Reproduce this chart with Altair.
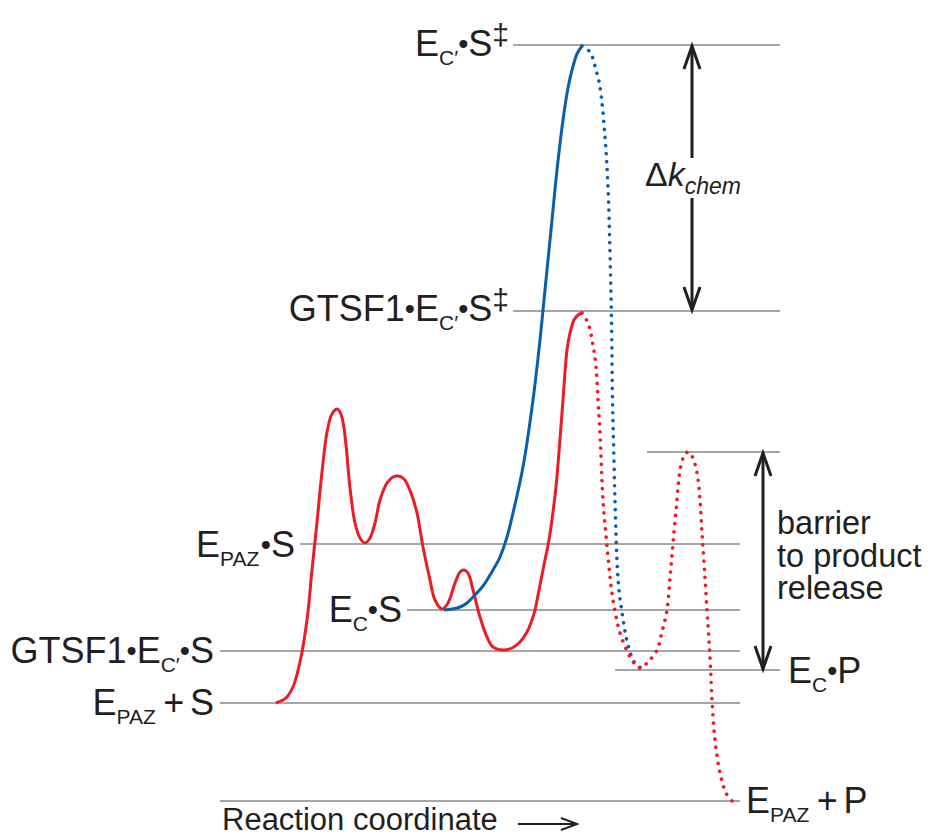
import altair as alt
import pandas as pd

FONT = "Liberation Sans"
INK = "#231f20"
RED = "#ec1c24"
BLUE = "#0a5fab"
GRAY = "#a6a6a6"

# ---------------- energy levels (x = reaction coordinate, y = energy, drawn downward) ------
level_names = ["EC'S_TS", "GTSF1_TS", "barrier_top", "EPAZ_S", "EC_S",
               "GTSF1_EC'S", "EC_P", "EPAZ+S", "EPAZ+P"]
level_y = [45, 311, 452, 544, 610, 651, 670, 703, 801]
level_x0 = [513, 513, 647, 300, 407, 220, 615, 220, 220]
level_x1 = [780, 780, 780, 740, 740, 740, 780, 740, 740]

# ---------------- curves ----------------------------------------------------------------
red_x = [276, 283, 287, 293, 300, 307, 312, 317, 322, 327, 331, 334, 337,
         340, 343, 346, 350, 355, 360, 365, 370, 375, 380, 387, 393, 398,
         404, 411, 417, 423, 430, 435, 442, 448, 455, 460, 464,
         468, 473, 480, 487, 493, 503, 512, 520, 527, 532, 535, 540,
         545, 549, 553, 556, 559, 561, 563, 565, 567, 570, 574, 578, 582]
red_y = [703, 700, 697, 687, 662, 620, 570, 522, 472, 432, 416, 411, 409,
         412, 422, 445, 488, 523, 538, 543, 538, 523, 500, 483, 477, 476,
         479, 493, 513, 547, 580, 600, 609, 603, 583, 572, 570,
         573, 590, 617, 637, 647, 650, 648, 642, 632, 620, 610, 585,
         560, 540, 512, 487, 452, 426, 400, 372, 350, 333, 320, 315, 313]

red_dot_x = [582, 588, 593, 596, 598, 600, 603, 606, 609, 613, 620, 628, 634, 640,
             648, 657, 662, 667, 670, 673, 677, 680, 684, 688,
             692, 697, 700, 702, 704.5, 707, 709, 710.5, 712, 715, 720, 726, 732]
red_dot_y = [313, 323, 345, 367, 400, 433, 500, 535, 567, 600, 633, 653, 663, 668,
             662, 650, 632, 610, 578, 543, 500, 470, 456, 452,
             456, 473, 500, 533, 570, 610, 640, 667, 700, 740, 773, 793, 801]

blue_x = [444, 452, 460, 467, 473, 483, 493, 500, 507, 513, 523, 533, 540,
          544, 548, 552, 557, 563, 568, 572, 577, 582]
blue_y = [610, 609, 607, 603, 597, 586, 570, 557, 537, 513, 467, 400, 340,
          300, 260, 220, 170, 120, 88, 70, 54, 46]

blue_dot_x = [582, 590, 596, 600, 605, 608, 610, 611.5, 612.5, 613.3, 615, 617.3,
              619, 621.7, 626.7, 631, 635, 641]
blue_dot_y = [46, 52, 70, 87, 137, 187, 253, 320, 400, 433, 500, 567,
              590, 610, 640, 655, 663, 668]

# ---------------- arrows (polylines) ------------------------------------------------------
arrow_ids = ["dk_up", "dk_up_head", "dk_dn", "dk_dn_head",
             "bar", "bar_head_top", "bar_head_bot",
             "rc", "rc_head"]
arrow_x = [[692, 692], [684, 692, 700], [692, 692], [684, 692, 700],
           [763, 763], [755, 763, 771], [755, 763, 771],
           [518, 577], [561, 577, 561]]
arrow_y = [[46, 158], [69, 46, 69], [198, 310], [287, 310, 287],
           [453, 669], [476, 453, 476], [646, 669, 646],
           [824, 824], [818, 824, 830]]
arrow_w = [3, 3, 3, 3, 3, 3, 3, 2, 2]

# ---------------- labels -----------------------------------------------------------------
B = "\u2022"
label_parts = [
    [("E", "m"), ("C\u2032", "sub"), (B, "dot"), ("S", "m"), ("\u2021", "sup")],
    [("GTSF1", "m"), (B, "dot"), ("E", "m"), ("C\u2032", "sub"), (B, "dot"), ("S", "m"),
     ("\u2021", "sup")],
    [("E", "m"), ("PAZ", "sub"), (B, "dot"), ("S", "m")],
    [("E", "m"), ("C", "sub"), (B, "dot"), ("S", "m")],
    [("GTSF1", "m"), (B, "dot"), ("E", "m"), ("C\u2032", "sub"), (B, "dot"), ("S", "m")],
    [("E", "m"), ("PAZ", "sub"), (" ", "sub"), ("+", "m"), (" ", "sub"), ("S", "m")],
    [("E", "m"), ("C", "sub"), (B, "dot"), ("P", "m")],
    [("E", "m"), ("PAZ", "sub"), (" ", "sub"), ("+", "m"), (" ", "sub"), ("P", "m")],
    [("\u0394", "dk"), ("k", "dki"), ("chem", "dks")],
]
label_anchor_x = [509, 509, 295, 402, 214, 214, 788, 746, 645]
label_base_y = [56, 321, 557, 622, 663, 715, 683, 813, 186]
label_align = ["right", "right", "right", "right", "right", "right", "left", "left", "left"]

barrier_lines = ["barrier", "to product", "release"]
barrier_base_y = [534, 566.5, 599]
axis_title = "Reaction coordinate"

# ---------------- build tables ---------------------------------------------------------
levels = pd.DataFrame({"name": level_names, "y": level_y, "x0": level_x0, "x1": level_x1})


def curve(xs_, ys_):
    return pd.DataFrame({"x": xs_, "y": ys_})


arrows = pd.DataFrame([
    {"id": a, "o": j, "x": xv, "y": yv, "w": w}
    for a, xl, yl, w in zip(arrow_ids, arrow_x, arrow_y, arrow_w)
    for j, (xv, yv) in enumerate(zip(xl, yl))
])

WID = {"E": .667, "S": .667, "G": .778, "T": .611, "F": .611, "1": .556,
       B: .35, "P": .667, "A": .667, "Z": .611, "C": .722, "\u2032": .19,
       "+": .584, " ": .278, "\u2021": .556, "\u0394": .668, "k": .5,
       "c": .5, "h": .556, "e": .556, "m": .833}
KIND = {  # size, baseline offset, italic
    "m": (36, 0, False), "sub": (21, 9, False), "sup": (30, -11, False),
    "dot": (29, -2, False),
    "dk": (34, 0, False), "dki": (34, 0, True), "dks": (23, 8, True),
}

rows = []
for parts, ax, by, al in zip(label_parts, label_anchor_x, label_base_y, label_align):
    widths = [sum(WID.get(ch, .55) for ch in t) * KIND[k][0] for t, k in parts]
    x = ax - sum(widths) if al == "right" else ax
    for (t, k), w in zip(parts, widths):
        size, off, it = KIND[k]
        rows.append({"t": t, "x": x, "y": by + off, "size": size, "it": it})
        x += w
for t, by in zip(barrier_lines, barrier_base_y):
    rows.append({"t": t, "x": 777, "y": by, "size": 32.5, "it": False})
rows.append({"t": axis_title, "x": 222, "y": 830, "size": 31, "it": False})
texts = pd.DataFrame(rows)

# ---------------- chart ----------------------------------------------------------------
xs = alt.Scale(domain=[8, 924], nice=False, zero=False)
ys = alt.Scale(domain=[8, 838], reverse=True, nice=False, zero=False)
X = alt.X("x:Q", scale=xs, axis=None)
Y = alt.Y("y:Q", scale=ys, axis=None)

rules = alt.Chart(levels).mark_rule(color=GRAY, strokeWidth=2).encode(
    x=alt.X("x0:Q", scale=xs, axis=None), x2="x1:Q", y=alt.Y("y:Q", scale=ys, axis=None))

dots = dict(strokeDash=[0.1, 8], strokeCap="round", strokeWidth=3.6, interpolate="catmull-rom")
red_dotted = alt.Chart(curve(red_dot_x, red_dot_y)).mark_line(color=RED, **dots).encode(x=X, y=Y)
blue_dotted = alt.Chart(curve(blue_dot_x, blue_dot_y)).mark_line(color=BLUE, **dots).encode(x=X, y=Y)
red_line = alt.Chart(curve(red_x, red_y)).mark_line(
    color=RED, strokeWidth=3, interpolate="catmull-rom").encode(x=X, y=Y)
blue_line = alt.Chart(curve(blue_x, blue_y)).mark_line(
    color=BLUE, strokeWidth=3, interpolate="catmull-rom").encode(x=X, y=Y)

arrow_layer = alt.Chart(arrows).mark_line(color=INK, strokeJoin="miter", strokeCap="butt").encode(
    x=X, y=Y, detail="id:N", order="o:O", strokeWidth=alt.StrokeWidth("w:Q", scale=None))

text_norm = alt.Chart(texts[~texts["it"]]).mark_text(
    align="left", baseline="alphabetic", font=FONT, color=INK).encode(
    x=X, y=Y, text="t:N", size=alt.Size("size:Q", scale=None))
text_it = alt.Chart(texts[texts["it"]]).mark_text(
    align="left", baseline="alphabetic", font=FONT, color=INK, fontStyle="italic").encode(
    x=X, y=Y, text="t:N", size=alt.Size("size:Q", scale=None))

chart = alt.layer(rules, blue_dotted, red_dotted, red_line, blue_line,
                  arrow_layer, text_norm, text_it).properties(
    width=916, height=830, padding=0, autosize=alt.AutoSizeParams(type="none"),
    background="white"
).configure_view(stroke=None)

chart.save("out.html", embed_options={"renderer": "svg", "actions": False})
